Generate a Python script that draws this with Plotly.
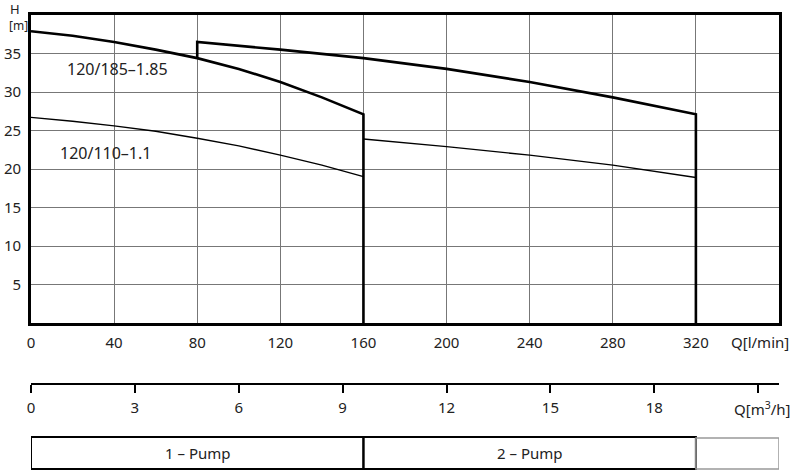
import plotly.graph_objects as go

# Pump curves, Q in l/min, H in m
q_single = [0, 20, 40, 60, 80, 100, 120, 140, 160]
h_185_single = [37.9, 37.3, 36.5, 35.5, 34.4, 33.0, 31.3, 29.3, 27.1]
h_110_single = [26.7, 26.2, 25.6, 24.9, 24.0, 23.0, 21.8, 20.5, 19.0]

q_185_double = [80, 80, 120, 160, 200, 240, 280, 320]
h_185_double = [34.4, 36.5, 35.5, 34.4, 33.0, 31.3, 29.3, 27.1]

q_110_double = [160, 200, 240, 280, 320]
h_110_double = [23.9, 22.9, 21.8, 20.5, 18.9]

# Axis ticks
q_lmin_ticks = [0, 40, 80, 120, 160, 200, 240, 280, 320]
h_ticks = [5, 10, 15, 20, 25, 30, 35]
q_m3h_ticks = [0, 3, 6, 9, 12, 15, 18, 21]
q_m3h_labels = ["0", "3", "6", "9", "12", "15", "18", ""]

# Operating ranges (l/min)
pump_ranges = [(0, 160, "1 – Pump"), (160, 320, "2 – Pump")]
q_max = 360

FONT = "Noto Sans, DejaVu Sans, sans-serif"
W, H = 805, 472
left, right, top, bot = 31, 26, 15, 3
plot_h = H - top - bot
plot_w = W - left - right

def py(y):  # pixel row -> paper y
    return (H - bot - y) / plot_h

def px(x):  # pixel column -> paper x
    return (x - left) / plot_w

fig = go.Figure()

thick = dict(color="black", width=2.6)
thin = dict(color="black", width=1.4)

fig.add_trace(go.Scatter(x=q_single + [q_single[-1]], y=h_185_single + [0],
                         mode="lines", line=thick))
fig.add_trace(go.Scatter(x=q_185_double + [q_185_double[-1]], y=h_185_double + [0],
                         mode="lines", line=thick))
fig.add_trace(go.Scatter(x=q_single, y=h_110_single, mode="lines", line=thin))
fig.add_trace(go.Scatter(x=q_110_double, y=h_110_double, mode="lines", line=thin))

# invisible trace carrying the m3/h scale
fig.add_trace(go.Scatter(x=[0, q_max * 60 / 1000], y=[0, 0], xaxis="x2", yaxis="y2",
                         mode="lines", line=dict(width=0), hoverinfo="skip"))

fig.update_layout(
    width=W, height=H,
    margin=dict(l=left, r=right, t=top, b=bot),
    plot_bgcolor="white", paper_bgcolor="white",
    showlegend=False,
    font=dict(family=FONT, size=15, color="#222"),
    xaxis=dict(range=[0, q_max], tickvals=q_lmin_ticks, showgrid=True,
               gridcolor="#777", gridwidth=1, zeroline=False,
               showline=True, linecolor="black", linewidth=2.6, mirror=True,
               ticks="", ticklabelstandoff=4, anchor="y"),
    yaxis=dict(range=[0, 40], domain=[py(323), 1], tickvals=h_ticks,
               showgrid=True, gridcolor="#777", gridwidth=1, zeroline=False,
               showline=True, linecolor="black", linewidth=2.6, mirror=True,
               ticks="", ticklabelstandoff=4),
    xaxis2=dict(range=[0, q_max * 60 / 1000], tickvals=q_m3h_ticks, ticktext=q_m3h_labels,
                anchor="y2", showgrid=False, zeroline=False, showline=True,
                linecolor="black", linewidth=2.2, ticks="outside", ticklen=8,
                tickwidth=1.6, tickcolor="black", ticklabelstandoff=2),
    yaxis2=dict(domain=[py(383), py(382)], visible=False, range=[0, 1]),
)

# Pump range boxes
box_y0, box_y1 = py(469), py(437)
for q0, q1, label in pump_ranges:
    fig.add_shape(type="rect", xref="x", yref="paper", x0=q0, x1=q1,
                  y0=box_y0, y1=box_y1, line=dict(color="black", width=2))
    fig.add_annotation(x=(q0 + q1) / 2, y=(box_y0 + box_y1) / 2, xref="x", yref="paper",
                       xanchor="center", yanchor="middle",
                       text=label, showarrow=False, font=dict(size=15))
fig.add_shape(type="rect", xref="x", yref="paper", x0=pump_ranges[-1][1], x1=q_max,
              y0=box_y0, y1=py(438), line=dict(color="#999", width=1.5))

# Curve labels
fig.add_annotation(x=41.5, y=33.0, xref="x", yref="y", text="120/185–1.85",
                   xanchor="center", yanchor="middle",
                   showarrow=False, font=dict(size=16))
fig.add_annotation(x=36, y=22.1, xref="x", yref="y", text="120/110–1.1",
                   xanchor="center", yanchor="middle",
                   showarrow=False, font=dict(size=16))

# Axis titles
fig.add_annotation(x=px(15), y=py(9), xref="paper", yref="paper",
                   xanchor="center", yanchor="middle",
                   text="H", showarrow=False, font=dict(size=13))
fig.add_annotation(x=px(18), y=py(26), xref="paper", yref="paper",
                   xanchor="center", yanchor="middle",
                   text="[m]", showarrow=False, font=dict(size=12))
fig.add_annotation(x=px(791), y=py(342), xref="paper", yref="paper",
                   xanchor="right", yanchor="middle",
                   text="Q[l/min]", showarrow=False, font=dict(size=15))
fig.add_annotation(x=px(793), y=py(408), xref="paper", yref="paper",
                   xanchor="right", yanchor="middle",
                   text="Q[m<sup>3</sup>/h]", showarrow=False, font=dict(size=15))

fig.write_html("out.html")
